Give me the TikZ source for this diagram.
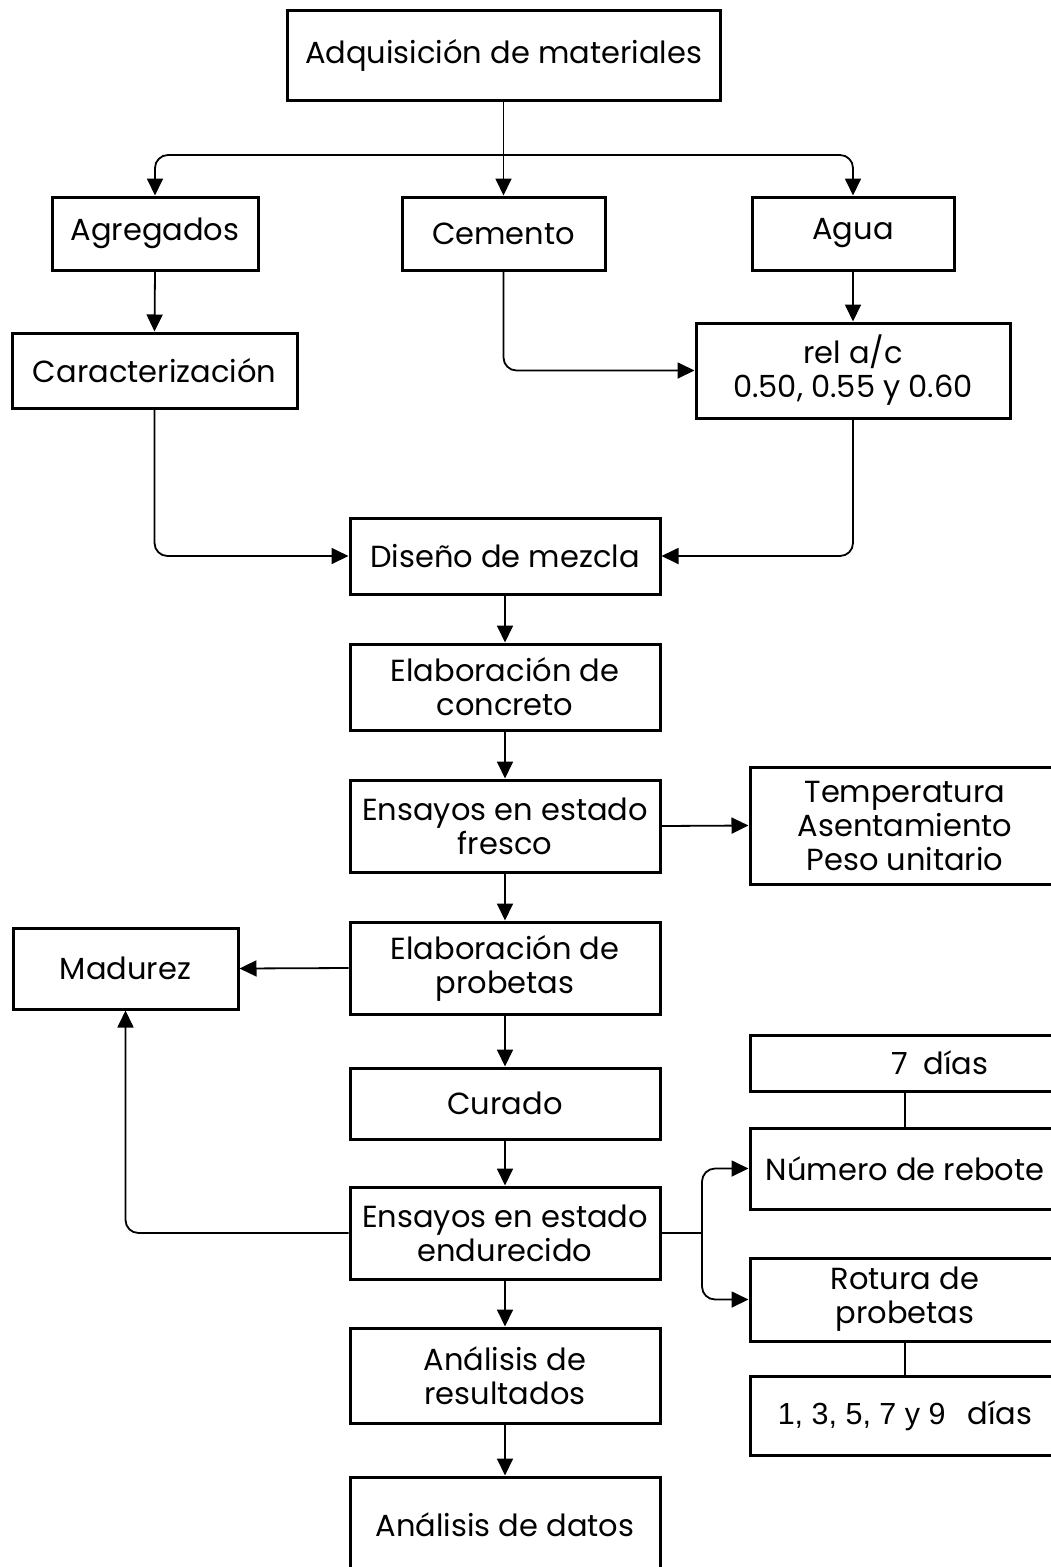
\documentclass[tikz,border=0pt]{standalone}
\usepackage{fontspec}
\setmainfont{Poppins}
\newfontfamily\numfont{Liberation Sans}
\usetikzlibrary{arrows.meta}
\tikzset{
  box/.style={draw=black, line width=3pt, fill=white, align=center, inner sep=0pt,
    font=\fontsize{30.5}{34}\selectfont},
  arr/.style={line width=1.8pt, -{Triangle[length=17pt,width=16pt]}},
  conn/.style={line width=1.8pt},
  rc/.style={rounded corners=13pt}
}
\begin{document}
\begin{tikzpicture}[x=1pt,y=-1pt]
\clip (0,0) rectangle (1051,1567);
\fill[white] (0,0) rectangle (1051,1567);
% main column
\node[box, minimum width=433, minimum height=90] (adq) at (503.5,55) {Adquisición de materiales};
\node[box, minimum width=206, minimum height=73] (agreg) at (155,233.5) {Agregados};
\node[box, minimum width=203, minimum height=73] (cem) at (503.5,233.5) {Cemento};
\node[box, minimum width=202, minimum height=73] (agua) at (853,233.5) {Agua};
\node[box, minimum width=285, minimum height=75] (carac) at (154.5,370.5) {Caracterización};
\node[box, minimum width=314, minimum height=95] (rel) at (853,370.5) {rel a/c\\0.50, 0.55 y 0.60};
\node[box, minimum width=310, minimum height=76] (dis) at (505,556) {Diseño de mezcla};
\node[box, minimum width=310, minimum height=86] (elab) at (505,687) {Elaboración de\\concreto};
\node[box, minimum width=310, minimum height=92] (fresco) at (505,826) {Ensayos en estado\\fresco};
\node[box, minimum width=310, minimum height=117] (temp) at (905,825.5) {Temperatura\\Asentamiento\\Peso unitario};
\node[box, minimum width=310, minimum height=92] (prob) at (505,968) {Elaboración de\\probetas};
\node[box, minimum width=225, minimum height=81] (mad) at (125.5,968.5) {Madurez};
\node[box, minimum width=310, minimum height=71] (cur) at (505,1103.5) {Curado};
\node[box, minimum width=310, minimum height=92] (endur) at (505,1233) {Ensayos en estado\\endurecido};
\node[box, minimum width=310, minimum height=56] (siete) at (905,1063) {\hspace*{70pt}7\enspace días};
\node[box, minimum width=310, minimum height=81] (rebote) at (905,1168.5) {Número de rebote};
\node[box, minimum width=310, minimum height=83] (rotura) at (905,1299.5) {Rotura de\\probetas};
\node[box, minimum width=310, minimum height=79] (dias) at (905,1415.5) {{\numfont 1, 3, 5, 7 y 9}\hspace{22pt}días};
\node[box, minimum width=310, minimum height=95] (res) at (505,1375.5) {Análisis de\\resultados};
\node[box, minimum width=310, minimum height=96] (datos) at (505,1525) {Análisis de datos};
% connectors
\coordinate (split) at (503.5,155);
\draw[arr] (adq.south) -- (cem.north);
\draw[arr, rc] (split) -| (agreg.north);
\draw[arr, rc] (split) -| (agua.north);
\draw[arr] (agreg.south) -- (carac.north);
\draw[arr] (agua.south) -- (rel.north);
\draw[arr, rc] (cem.south) |- (rel.west);
\draw[arr, rc] (carac.south) |- (dis.west);
\draw[arr, rc] (rel.south) |- (dis.east);
\draw[arr] (dis.south) -- (elab.north);
\draw[arr] (elab.south) -- (fresco.north);
\draw[arr] (fresco.east) -- (temp.west);
\draw[arr] (fresco.south) -- (prob.north);
\draw[arr] (prob.west) -- (mad.east);
\draw[arr] (prob.south) -- (cur.north);
\draw[arr] (cur.south) -- (endur.north);
\draw[arr, rc] (endur.west) -| (mad.south);
\coordinate (fork) at (702,1233);
\draw[conn] (endur.east) -- (fork);
\draw[arr, rc] (fork) |- (rebote.west);
\draw[arr, rc] (fork) |- (rotura.west);
\draw[conn] (siete.south) -- (rebote.north);
\draw[conn] (rotura.south) -- (dias.north);
\draw[arr] (endur.south) -- (res.north);
\draw[arr] (res.south) -- (datos.north);
\end{tikzpicture}
\end{document}
